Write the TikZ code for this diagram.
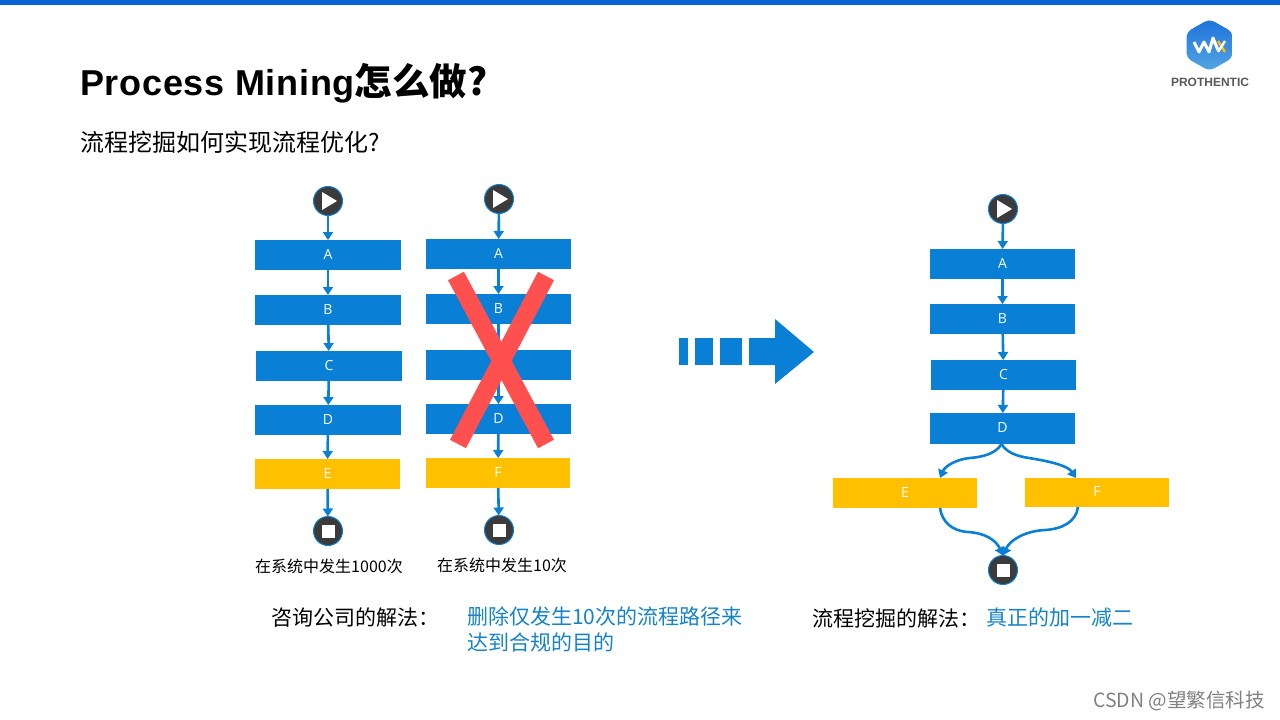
\documentclass[tikz,border=0pt]{standalone}
\usepackage{fontspec}
\setmainfont{Liberation Sans}
\newfontfamily\cjk{Noto Sans CJK SC}
\newfontfamily\boxfont{Open Sans}
\newfontfamily\titlefont[LetterSpace=2]{Liberation Sans}
\usetikzlibrary{arrows.meta}
\usetikzlibrary{positioning}
\definecolor{barblue}{HTML}{0563D6}
\definecolor{boxblue}{HTML}{0A7FD6}
\definecolor{boxgold}{HTML}{FFC000}
\definecolor{crossred}{HTML}{FF5050}
\definecolor{icondark}{HTML}{3B3B3B}
\definecolor{noteblue}{HTML}{1483C8}
\tikzset{
    task/.style={fill=boxblue,text=white,minimum width=146pt,minimum height=30pt,
        inner sep=0pt,outer sep=0pt,text height=10pt,text depth=2pt,
        font=\boxfont\fontsize{14}{14}\selectfont},
    goldtask/.style={task,fill=boxgold},
    terminal/.style={circle,fill=icondark,draw=boxblue,line width=1pt,
        minimum size=29pt,inner sep=0pt,outer sep=0pt},
    flow/.style={-{Triangle[length=8pt,width=10pt]},color=boxblue,line width=2.6pt},
    note/.style={inner sep=0pt,anchor=west,font=\cjk\fontsize{21}{26}\selectfont},
    count/.style={inner sep=0pt,font=\cjk\fontsize{16}{18}\selectfont}
}
\newcommand{\playmark}[1]{\fill[white] ([shift={(-6,-9)}]#1.center) -- ([shift={(9,0)}]#1.center) -- ([shift={(-6,9)}]#1.center) -- cycle;}
\newcommand{\stopmark}[1]{\fill[white] ([shift={(-6.5,-6.5)}]#1.center) rectangle ([shift={(6.5,6.5)}]#1.center);}
\begin{document}
\begin{tikzpicture}[x=1pt,y=-1pt]
    \useasboundingbox (0,0) rectangle (1280,720);
    \fill[barblue] (0,0) rectangle (1280,5);
    % heading
    \node [inner sep=0pt,anchor=west,font=\titlefont\bfseries\fontsize{36}{40}\selectfont] (title) at (80,83) {Process Mining{\cjk\fontsize{37.5}{40}\selectfont 怎么做?}};
    \node [inner sep=0pt,anchor=west,font=\cjk\fontsize{24}{28}\selectfont] (subtitle) at (80,142) {流程挖掘如何实现流程优化?};
    % logo
    \shade[top color=barblue!90!white,bottom color=boxblue!70!white,rounded corners=5pt]
        (1209.5,19) -- (1232.5,32) -- (1232.5,58) -- (1209.5,71) -- (1186.5,58) -- (1186.5,32) -- cycle;
    \draw[white,line width=3pt,line join=round] (1194,42) -- (1199,52) -- (1204,42) -- (1209,52) -- (1213,38) -- (1218,50);
    \draw[boxgold,line width=2.4pt] (1218,41) -- (1225,52);
    \draw[white,line width=2.4pt] (1225,41) -- (1218,52);
    \node [inner sep=0pt,text=black!65,font=\bfseries\fontsize{12}{12}\selectfont] (logo) at (1210,82) {PROTHENTIC};
    % first path
    \node [terminal] (start1) at (328,201) {};
    \node [task] (a1) at (328,255) {A};
    \node [task] (b1) [below=25pt of a1] {B};
    \node [task] (c1) [below=26pt of b1,xshift=1pt] {C};
    \node [task] (d1) [below=24pt of c1,xshift=-1pt] {D};
    \node [goldtask,minimum width=145pt] (e1) [below=24pt of d1,xshift=-0.5pt] {E};
    \node [terminal] (stop1) at (328,531) {};
    \playmark{start1}
    \stopmark{stop1}
    \path[flow]
        (start1) edge (a1)
        (a1) edge (b1)
        (b1) edge (c1)
        (c1) edge (d1)
        (d1) edge (e1)
        (e1) edge (stop1);
    \node [count] (count1) at (329,566) {在系统中发生1000次};
    % second path
    \node [terminal] (start2) at (499,199) {};
    \node [task,minimum width=145pt] (a2) at (498.5,254) {A};
    \node [task,minimum width=145pt] (b2) [below=25pt of a2] {B};
    \node [task,minimum width=145pt] (c2) [below=26pt of b2] {C};
    \node [task,minimum width=145pt] (d2) [below=24pt of c2] {D};
    \node [goldtask,minimum width=144pt] (f2) [below=24pt of d2,xshift=-0.5pt] {F};
    \node [terminal] (stop2) at (499,530) {};
    \playmark{start2}
    \stopmark{stop2}
    \path[flow]
        (start2) edge (a2)
        (a2) edge (b2)
        (b2) edge (c2)
        (c2) edge (d2)
        (d2) edge (f2)
        (f2) edge (stop2);
    \node [count] (count2) at (502,565) {在系统中发生10次};
    \draw[crossred,line width=18pt] (456,276) -- (546,444);
    \draw[crossred,line width=18pt] (546,276) -- (458,444);
    % big arrow
    \fill[boxblue] (679,338) rectangle (688,365);
    \fill[boxblue] (695,338) rectangle (713,365);
    \fill[boxblue] (720,338) rectangle (742,365);
    \fill[boxblue] (749,338) -- (775,338) -- (775,319) -- (814,352) -- (775,384) -- (775,365) -- (749,365) -- cycle;
    % merged path
    \node [terminal] (start3) at (1003,209) {};
    \node [task,minimum width=145pt] (a3) at (1002.5,264) {A};
    \node [task,minimum width=145pt] (b3) [below=25pt of a3] {B};
    \node [task,minimum width=145pt] (c3) [below=26pt of b3,xshift=1pt] {C};
    \node [task,minimum width=145pt,minimum height=31pt] (d3) [below=23pt of c3,xshift=-1pt] {D};
    \node [goldtask,minimum width=144pt] (e3) at (905,493) {E};
    \node [goldtask,minimum width=144pt,minimum height=29pt] (f3) at (1097,492.5) {F};
    \node [terminal] (stop3) at (1003,570) {};
    \playmark{start3}
    \stopmark{stop3}
    \path[flow]
        (start3) edge (a3)
        (a3) edge (b3)
        (b3) edge (c3)
        (c3) edge (d3);
    \draw[flow] ([xshift=-1pt]d3.south) .. controls (995,455) and (980,457) .. (970,458) .. controls (957,459) and (945,466) .. ([xshift=35pt]e3.north);
    \draw[flow] ([xshift=-1pt]d3.south) .. controls (1008,455) and (1022,457) .. (1035,459) .. controls (1052,462) and (1068,466) .. ([xshift=-21pt]f3.north);
    \draw[flow] ([xshift=35pt]e3.south) .. controls (942,522) and (952,531) .. (968,532) .. controls (985,533) and (996,540) .. (stop3.north);
    \draw[flow] ([xshift=-19pt]f3.south) .. controls (1076,522) and (1062,529) .. (1045,530) .. controls (1025,531) and (1010,540) .. (stop3.north);
    % notes
    \node [note] (way1) at (271,618) {咨询公司的解法：};
    \node [note,text=noteblue,align=left,anchor=north west] (fix1) at (467,607) {删除仅发生10次的流程路径来\\达到合规的目的};
    \node [note] (way2) at (812,618) {流程挖掘的解法：};
    \node [note,text=noteblue] (fix2) at (986,618) {真正的加一减二};
    \node [inner sep=0pt,anchor=east,text=black!50,font=\cjk\fontsize{19.5}{20}\selectfont] (mark) at (1265,701) {CSDN @望繁信科技};
\end{tikzpicture}
\end{document}
